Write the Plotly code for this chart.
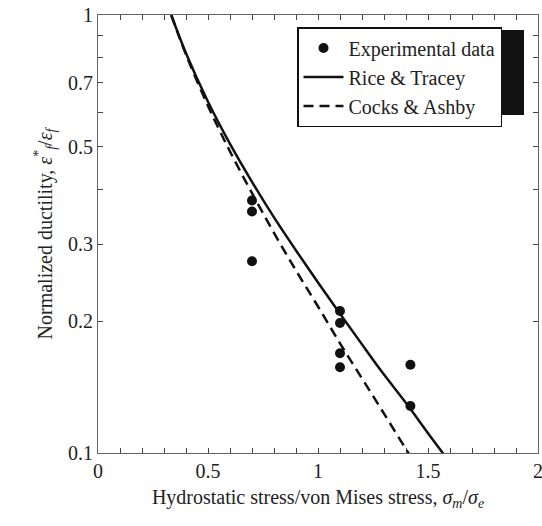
import plotly.graph_objects as go

exp_x = [0.70, 0.70, 0.70, 1.10, 1.10, 1.10, 1.10, 1.42, 1.42]
exp_y = [0.377, 0.356, 0.274, 0.211, 0.198, 0.169, 0.157, 0.159, 0.128]

# Rice & Tracey curve
rt_x = [0.333, 0.4, 0.5, 0.6, 0.7, 0.8, 0.9, 1.0, 1.1, 1.2, 1.3, 1.4, 1.5, 1.6]
rt_y = [1.0, 0.818, 0.634, 0.508, 0.416, 0.345, 0.290, 0.245, 0.208, 0.177, 0.151, 0.130, 0.111, 0.095]

# Cocks & Ashby curve
ca_x = [0.333, 0.4, 0.5, 0.6, 0.7, 0.8, 0.9, 1.0, 1.1, 1.2, 1.3, 1.4, 1.45]
ca_y = [1.0, 0.812, 0.620, 0.488, 0.392, 0.318, 0.261, 0.216, 0.178, 0.148, 0.123, 0.102, 0.093]

x_tickvals = [round(0.1 * i, 1) for i in range(21)]
x_ticktext = ["0", "", "", "", "", "0.5", "", "", "", "", "1", "", "", "", "", "1.5", "", "", "", "", "2"]
y_tickvals = [0.1, 0.2, 0.3, 0.4, 0.5, 0.6, 0.7, 0.8, 0.9, 1.0]
y_ticktext = ["0.1", "0.2", "0.3", "", "0.5", "", "0.7", "", "", "1"]

FONT = "Liberation Serif"

L, R, T, B = 98, 4, 15, 73
PW, PH = 542 - L - R, 526 - T - B

fig = go.Figure()
fig.add_trace(go.Scatter(x=exp_x, y=exp_y, mode="markers", name="Experimental data",
                         marker=dict(color="#111", size=10)))
fig.add_trace(go.Scatter(x=rt_x, y=rt_y, mode="lines", name="Rice & Tracey",
                         line=dict(color="#111", width=2.5, shape="spline")))
fig.add_trace(go.Scatter(x=ca_x, y=ca_y, mode="lines", name="Cocks & Ashby",
                         line=dict(color="#111", width=2.5, dash="10px,6px", shape="spline")))

# legend shadow
fig.add_shape(type="rect", xref="paper", yref="paper",
              x0=(300 - L) / PW, x1=(524 - L) / PW,
              y0=(453 - 115) / PH, y1=(453 - 30) / PH,
              fillcolor="#111", line=dict(width=0), layer="above")

axis_common = dict(ticks="inside", ticklen=5, tickcolor="#444", showline=True,
                   linecolor="#666", linewidth=1, mirror="allticks", showgrid=False,
                   zeroline=False, automargin=False, ticklabeloverflow="allow",
                   tickfont=dict(family=FONT, size=20, color="#222"))

fig.update_layout(
    width=542, height=526,
    margin=dict(l=L, r=R, t=T, b=B),
    paper_bgcolor="white", plot_bgcolor="white",
    font=dict(family=FONT, color="#222"),
    showlegend=True,
    legend=dict(x=(297 - L) / PW, y=(453 - 27) / PH, xanchor="left", yanchor="top",
                bgcolor="white", bordercolor="#111", borderwidth=1.5,
                font=dict(family=FONT, size=20, color="#222"),
                itemwidth=40, tracegroupgap=0),
    xaxis=dict(range=[0, 2], tickvals=x_tickvals, ticktext=x_ticktext,
               title=dict(text="Hydrostatic stress/von Mises stress, <i>σ</i><sub><i>m</i></sub>/<i>σ</i><sub><i>e</i></sub>",
                          font=dict(family=FONT, size=20, color="#222"), standoff=8),
               **axis_common),
    yaxis=dict(type="log", range=[-1, 0], tickvals=y_tickvals, ticktext=y_ticktext,
               title=dict(text="Normalized ductility, <i>ε</i><sup>*</sup><sub><i>f</i></sub>/<i>ε</i><sub><i>f</i></sub>",
                          font=dict(family=FONT, size=20, color="#222"), standoff=10),
               **axis_common),
)

ps = """
document.documentElement.style.margin = '0';
document.body.style.margin = '0';
document.body.style.overflow = 'hidden';
"""
fig.write_html("out.html", post_script=ps)
